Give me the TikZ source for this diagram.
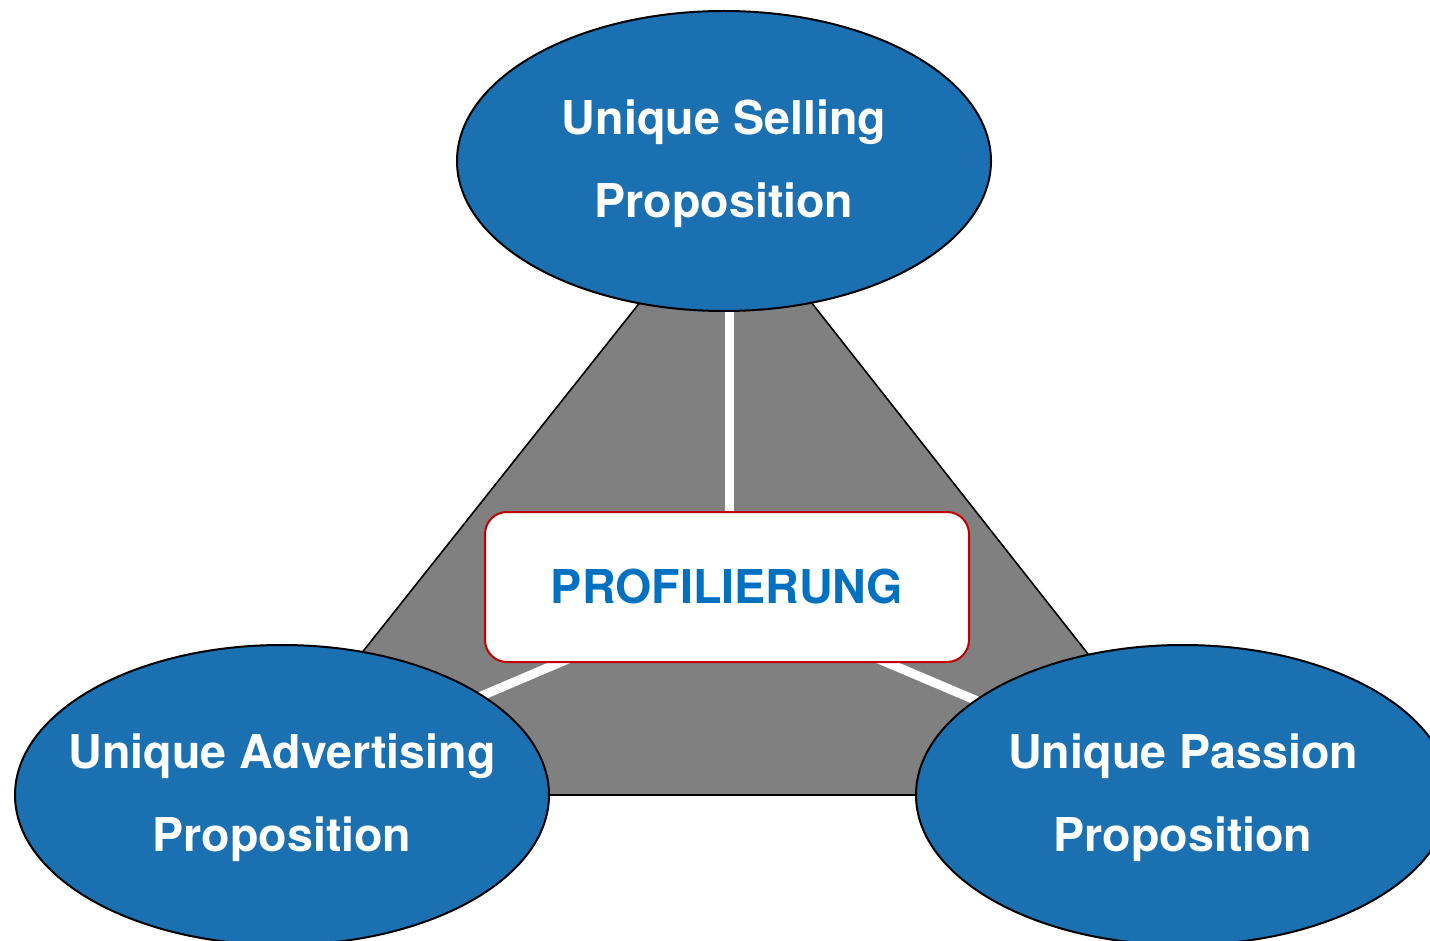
\documentclass[tikz,border=0pt]{standalone}
\usepackage{fontspec}
\setmainfont{TeX Gyre Heros}
\usepackage{xcolor}
\usepackage{tikz}
\usetikzlibrary{shapes.geometric}
\usetikzlibrary{positioning}
\definecolor{propblau}{RGB}{27,112,177}
\definecolor{textblau}{RGB}{0,112,192}
\definecolor{rahmenrot}{RGB}{192,0,0}
\tikzset{
  Ellipse/.style={ellipse,draw=black,line width=1pt,fill=propblau,
    minimum width=267pt,minimum height=150pt,inner sep=0pt}, % für die Propositionen
  Beschriftung/.style={text=white,align=center,inner sep=0pt,
    font={\fontsize{23.3}{41.5}\selectfont\bfseries}}, % Text in den Ellipsen
  Kasten/.style={rectangle,rounded corners=11pt,draw=rahmenrot,line width=1pt,
    fill=white,text=textblau,minimum width=242pt,minimum height=75pt,
    font={\fontsize{23.3}{28}\selectfont\bfseries}}, % Kasten in der Mitte
  Teiler/.style={white,line width=4.5pt} % weisse Trennlinien
}

\begin{document}
\begin{tikzpicture}[x=0.5pt,y=-0.5pt]
\useasboundingbox (0,0) rectangle (1430,941);
\clip (0,0) rectangle (1430,941);

%Eckpunkte des Dreiecks
\coordinate (E-1) at (726,194);
\coordinate (E-2) at (249,795);
\coordinate (E-3) at (1199,795);
\coordinate (M) at (723,593);
\coordinate (M-1) at (729,593);

%Dreieck
\draw[fill=gray,line width=0.8pt] (E-1) -- (E-2) -- (E-3) -- cycle;

%Trennlinien
\draw[Teiler] (M-1) -- (M-1 |- E-1);
\draw[Teiler] (M) -- (E-2);
\draw[Teiler] (M) -- (E-3);

%Propositionen
\node[Ellipse] (USP) at (724,161) {};
\node[Ellipse] (UAP) at (282,795) {};
\node[Ellipse] (UPP) at (1183,795) {};

\node[Beschriftung] (USP-T) at ([yshift=-1.5pt]USP.center) {Unique Selling\\Proposition};
\node[Beschriftung] (UAP-T) at ([yshift=-1.5pt]UAP.center) {Unique Advertising\\Proposition};
\node[Beschriftung] (UPP-T) at ([yshift=-1.5pt]UPP.center) {Unique Passion\\Proposition};

%Mitte
\node[Kasten] (Profil) at (727,587) {PROFILIERUNG};

\end{tikzpicture}
\end{document}
